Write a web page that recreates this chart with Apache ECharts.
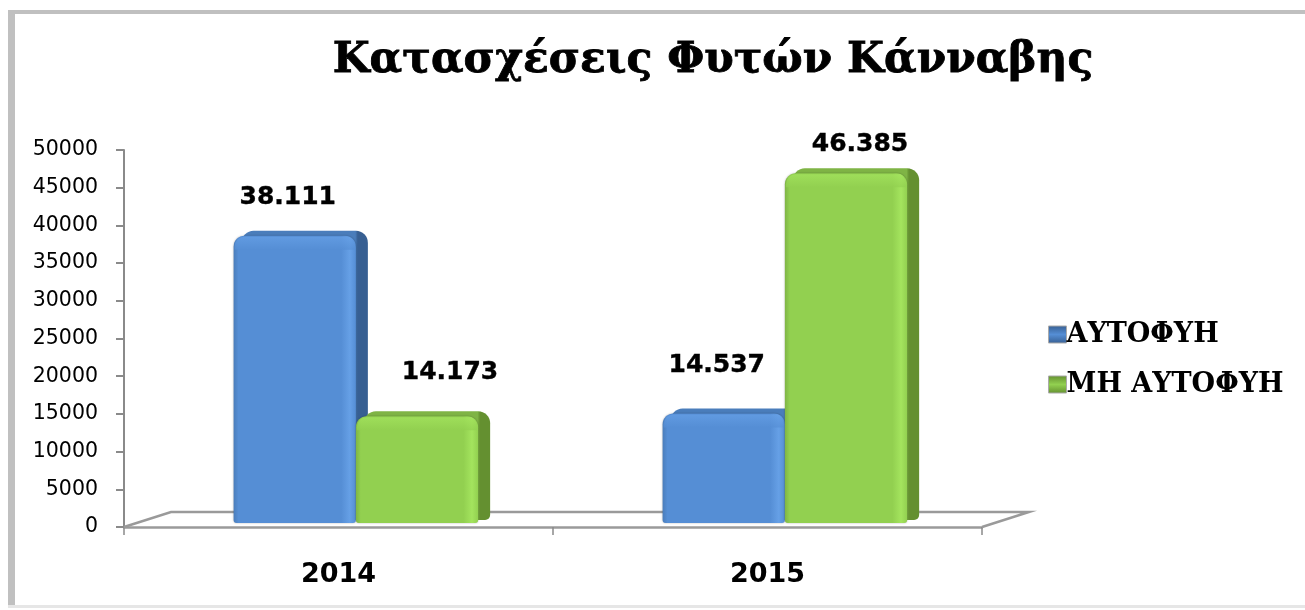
<!DOCTYPE html>
<html>
<head>
<meta charset="utf-8">
<title>Κατασχέσεις Φυτών Κάνναβης</title>
<style>
html, body { margin: 0; padding: 0; background: #fff; }
#main { width: 1305px; height: 610px; }
</style>
<script src="https://cdn.jsdelivr.net/npm/echarts@6/dist/echarts.min.js"></script>
</head>
<body>
<div id="main"></div>
<script>
var titleText = "Κατασχέσεις Φυτών Κάνναβης";
var years = ["2014", "2015"];
var seriesNames = ["ΑΥΤΟΦΥΗ", "ΜΗ ΑΥΤΟΦΥΗ"];
var autofyi = [38111, 14537];
var miAutofyi = [14173, 46385];
var yTicks = [0, 50000, 5000]; // min, max, step

// data labels were placed by hand in the original, so each one has its own nudge
var labelNudge = [
	[[-7, -38], [-7, -48]],
	[[33, -44], [14, -29]]
];

var palette = [
	{ front: "#558ed5", light: "#66a0e6", side: "#375f92", top: "#4a7dbb", icon: "#4a7ebb" },
	{ front: "#92d050", light: "#a4e45e", side: "#649030", top: "#7fb445", icon: "#77a83f" }
];

// group offset of the two bars inside a band, and bar sizes, as ratios of the band
var barWidthRatio = 0.285;
var barStartRatio = 0.2555;
var depthX = 12;
var depthY = 5;
var floorLift = 4;

function formatValue(v) {
	return String(v).replace(/\B(?=(\d{3})+$)/g, ".");
}

function renderBar(seriesIdx, params, api) {
	var band = api.size([1, 0])[0];
	var cat = api.value(0);
	var val = api.value(1);
	var start = api.coord([cat, 0]);
	var end = api.coord([cat, val]);
	var w = band * barWidthRatio;
	var x = start[0] - band / 2 + band * barStartRatio + w * seriesIdx;
	var y = end[1] - floorLift;
	var bottom = start[1] - floorLift;
	var h = bottom - y;
	var c = palette[seriesIdx];
	var nudge = labelNudge[seriesIdx][cat];
	return {
		type: "group",
		children: [
			// side and top face
			{
				type: "rect",
				shape: { x: x + 8, y: y - depthY, width: w + depthX - 8, height: h + depthY - 3, r: [12, 12, 5, 0] },
				style: {
					fill: {
						type: "linear", x: 0, y: 0, x2: 1, y2: 0,
						colorStops: [
							{ offset: 0, color: c.top },
							{ offset: 0.9, color: c.top },
							{ offset: 0.92, color: c.side },
							{ offset: 1, color: c.side }
						]
					}
				}
			},
			// front face
			{
				type: "rect",
				shape: { x: x, y: y, width: w, height: h, r: [11, 11, 3, 3] },
				style: {
					fill: {
						type: "linear", x: 0, y: 0, x2: 1, y2: 0,
						colorStops: [
							{ offset: 0, color: c.top },
							{ offset: 0.04, color: c.front },
							{ offset: 0.88, color: c.front },
							{ offset: 0.95, color: c.light },
							{ offset: 1, color: c.front }
						]
					},
					shadowBlur: 2,
					shadowColor: "rgba(0,0,0,0.3)"
				}
			},
			// soft bevel under the top edge
			{
				type: "rect",
				shape: { x: x + 1, y: y + 1, width: w - 2, height: 13, r: [10, 10, 0, 0] },
				style: {
					fill: {
						type: "linear", x: 0, y: 0, x2: 0, y2: 1,
						colorStops: [
							{ offset: 0, color: c.light },
							{ offset: 1, color: c.front }
						]
					},
					opacity: 0.7
				}
			},
			{
				type: "text",
				x: x + w / 2 + nudge[0],
				y: y + nudge[1],
				style: {
					text: formatValue(val),
					fill: "#000",
					stroke: "#000",
					lineWidth: 0.4,
					font: "bold 25px 'DejaVu Sans'",
					align: "center",
					verticalAlign: "middle"
				}
			}
		]
	};
}

// the grey floor behind the bars
function renderFloor(params, api) {
	var g = params.coordSys;
	var left = g.x;
	var right = g.x + g.width;
	var base = g.y + g.height;
	var depth = 15;
	var skew = 47;
	return {
		type: "polyline",
		shape: {
			points: [
				[left, base],
				[left + skew, base - depth],
				[right + skew, base - depth],
				[right, base]
			]
		},
		style: { fill: null, stroke: "#9a9a9a", lineWidth: 2.5 }
	};
}

function toPairs(values) {
	var out = [];
	for (var i = 0; i < values.length; i++) {
		out.push([i, values[i]]);
	}
	return out;
}

function legendItem(i) {
	return {
		name: seriesNames[i],
		icon: "rect",
		itemStyle: {
			color: {
				type: "linear", x: 0, y: 0, x2: 0, y2: 1,
				colorStops: [
					{ offset: 0, color: palette[i].side },
					{ offset: 0.5, color: palette[i].front },
					{ offset: 1, color: palette[i].side }
				]
			},
			borderColor: "#aaa",
			borderWidth: 1
		}
	};
}

var myChart = echarts.init(document.getElementById("main"), null, { renderer: "canvas" });
myChart.setOption({
	animation: false,
	backgroundColor: "#fff",
	title: {
		text: titleText,
		left: 708,
		top: 34,
		textAlign: "center",
		textStyle: {
			fontFamily: "DejaVu Serif",
			fontWeight: "bold",
			fontSize: 42.5,
			color: "#000",
			textBorderColor: "#000",
			textBorderWidth: 0.8
		}
	},
	legend: {
		orient: "vertical",
		left: 1043,
		top: 316,
		itemWidth: 18,
		itemHeight: 17,
		itemGap: 23,
		data: [legendItem(0), legendItem(1)],
		textStyle: {
			fontFamily: "DejaVu Serif",
			fontWeight: "bold",
			fontSize: 27,
			color: "#000",
			padding: [0, 0, 0, -5]
		}
	},
	grid: { left: 124, right: 323, top: 150, bottom: 83 },
	xAxis: {
		type: "category",
		data: years,
		axisLine: { lineStyle: { color: "#9a9a9a", width: 2.5 } },
		axisTick: { show: true, length: 8, lineStyle: { color: "#8a8a8a", width: 1.5 } },
		axisLabel: {
			margin: 34,
			fontFamily: "DejaVu Sans",
			fontWeight: "bold",
			fontSize: 27,
			color: "#000"
		}
	},
	yAxis: {
		type: "value",
		min: yTicks[0],
		max: yTicks[1],
		interval: yTicks[2],
		splitLine: { show: false },
		axisLine: { show: true, lineStyle: { color: "#8a8a8a", width: 2 } },
		axisTick: { show: true, length: 8, lineStyle: { color: "#8a8a8a", width: 2 } },
		axisLabel: {
			margin: 26,
			fontFamily: "DejaVu Sans",
			fontSize: 20.5,
			color: "#000",
			formatter: function (v) { return String(v); }
		}
	},
	graphic: [
		// picture frame round the slide
		{ type: "rect", silent: true, z: 100, shape: { x: 8, y: 10, width: 7, height: 597 }, style: { fill: "#c0c0c0" } },
		{ type: "rect", silent: true, z: 100, shape: { x: 8, y: 10, width: 1297, height: 4 }, style: { fill: "#c0c0c0" } },
		{ type: "rect", silent: true, z: 100, shape: { x: 8, y: 605, width: 1297, height: 3 }, style: { fill: "#e6e6e6" } }
	],
	series: [
		{
			type: "custom",
			name: "floor",
			z: 1,
			silent: true,
			clip: false,
			data: [[0, 0]],
			encode: { x: 0, y: 1 },
			renderItem: renderFloor
		},
		{
			type: "custom",
			name: seriesNames[0],
			z: 3,
			clip: false,
			data: toPairs(autofyi),
			encode: { x: 0, y: 1 },
			renderItem: function (params, api) { return renderBar(0, params, api); }
		},
		{
			type: "custom",
			name: seriesNames[1],
			z: 4,
			clip: false,
			data: toPairs(miAutofyi),
			encode: { x: 0, y: 1 },
			renderItem: function (params, api) { return renderBar(1, params, api); }
		}
	]
});
</script>
</body>
</html>
